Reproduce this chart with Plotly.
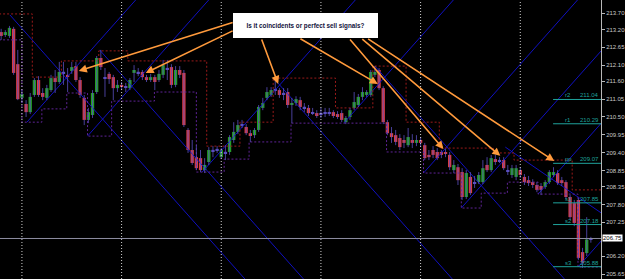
import plotly.graph_objects as go

# ---------------- data ----------------
hours = list(range(19, 162))  # hourly bars, day separators every 24 h

opens = [213.12,213.03,213.00,213.22,212.13, 211.09,210.90,210.65,211.18,211.64,
         211.24,211.09,211.33,211.70,211.58, 211.89,211.80,211.92,212.07,211.64,
         211.09,210.41,210.56,211.27,212.32, 211.73,211.83,211.73,211.39,211.49,
         211.45,211.39,211.86,211.89,211.89, 211.73,211.64,211.73,211.64,211.80,
         212.01,212.04,211.49,211.95,211.86, 210.10,209.48,209.26,209.23,208.86,
         209.11,209.48,209.48,209.26,209.42, 209.42,209.79,210.04,210.25,210.19,
         210.00,209.94,210.10,210.78,211.09, 211.18,211.33,211.33,211.24,211.27,
         210.87,210.93,211.02,210.81,210.78, 210.65,210.62,210.59,210.62,210.65,
         210.65,210.59,210.62,210.34,210.50, 210.78,210.87,211.12,211.18,211.18,
         211.80,211.95,211.39,210.34,210.00, 209.94,209.85,209.79,209.63,209.79,
         209.70,209.79,209.63,209.33,209.48, 209.42,209.42,209.42,209.33,208.86,
         208.95,208.80,208.03,208.65,208.49, 208.49,208.49,209.02,208.86,209.20,
         209.17,209.17,208.86,208.71,208.65, 208.86,208.65,208.55,208.49,208.40,
         208.37,208.34,208.49,208.71,208.77, 208.55,208.49,208.03,207.84,207.94,
         206.33,206.30,206.72]
closes = [213.00,213.12,213.25,211.86,211.05, 211.21,210.65,211.12,211.64,211.18,
          211.12,211.39,211.70,211.58,211.89, 211.86,211.76,212.04,211.64,211.18,
          210.41,210.65,211.24,212.32,212.04, 211.70,211.67,211.39,211.49,211.45,
          211.42,211.64,211.95,211.86,211.73, 211.64,211.73,211.58,211.83,212.10,
          211.98,211.49,211.95,211.80,210.25, 209.48,209.08,208.92,208.86,209.02,
          209.48,209.45,209.51,209.48,209.39, 209.88,210.04,210.25,210.28,210.00,
          209.94,210.10,210.81,210.93,211.27, 211.33,211.36,211.18,211.21,210.87,
          210.93,211.05,210.81,210.78,210.62, 210.62,210.56,210.62,210.65,210.62,
          210.53,210.53,210.41,210.47,210.71, 210.96,211.12,211.27,211.27,211.89,
          211.89,211.39,210.34,210.00,209.88, 209.73,209.57,209.70,209.88,209.70,
          209.79,209.70,209.23,209.26,209.33, 209.23,209.33,209.36,208.95,209.02,
          208.55,208.03,208.77,208.15,208.46, 208.71,208.92,208.86,209.23,209.11,
          209.14,208.92,208.83,208.92,208.92, 208.71,208.49,208.46,208.40,208.25,
          208.25,208.49,208.80,208.80,208.46, 208.46,208.03,207.41,207.23,206.15,
          206.00,206.72,206.75]
highs = [213.22,213.18,213.31,213.28,212.57, 211.33,211.02,211.24,211.70,211.76,
         211.39,211.49,211.80,211.95,212.20, 212.20,212.01,212.20,212.20,211.73,
         211.18,210.78,211.33,212.38,212.57, 212.01,211.89,211.80,211.64,211.58,
         211.55,211.70,212.10,212.01,211.95, 211.80,211.83,211.80,211.95,212.26,
         212.26,212.13,212.07,212.07,211.95, 210.16,209.79,209.63,209.48,209.23,
         209.57,209.60,209.60,209.54,209.63, 209.94,210.34,210.41,210.41,210.28,
         210.10,210.16,210.87,211.09,211.42, 211.42,211.64,211.39,211.39,211.39,
         211.09,211.14,211.12,210.93,210.87, 210.78,210.71,210.78,210.78,210.78,
         210.71,210.68,210.71,210.53,210.78, 211.27,211.21,211.42,211.33,211.95,
         212.07,212.01,211.45,210.41,210.19, 210.10,209.97,209.94,210.16,209.97,
         209.94,209.88,209.70,209.48,209.60, 209.54,209.48,209.51,209.42,209.17,
         209.05,208.92,208.86,208.80,208.68, 208.80,209.17,209.26,209.33,209.33,
         209.26,209.26,209.02,209.02,209.02, 208.95,208.74,208.68,208.58,208.49,
         208.46,208.55,208.86,208.95,208.86, 208.65,208.55,208.09,207.94,208.00,
         206.46,207.41,206.80]
lows = [212.88,212.97,212.94,211.80,211.02, 210.93,210.50,210.59,211.12,211.12,
        211.02,211.02,211.27,211.24,211.52, 211.49,211.27,211.83,211.58,211.09,
        210.25,210.31,210.47,211.21,211.95, 211.12,211.52,211.02,211.27,211.33,
        211.27,211.33,211.58,211.76,211.64, 211.58,211.58,211.33,211.58,211.70,
        211.64,211.39,211.42,211.70,210.19, 209.39,209.02,208.86,208.80,208.77,
        209.02,209.26,209.39,209.20,209.17, 209.33,209.70,209.97,210.16,209.94,
        209.73,209.85,210.04,210.71,211.02, 211.12,211.18,211.09,211.02,210.78,
        210.31,210.84,210.71,210.65,210.53, 210.56,210.47,210.47,210.50,210.53,
        210.47,210.44,210.34,210.28,210.41, 210.71,210.81,211.02,211.12,211.12,
        211.73,211.33,210.28,209.94,209.70, 209.63,209.48,209.54,209.57,209.54,
        209.60,209.60,209.17,209.17,209.23, 209.17,209.23,209.26,208.86,208.77,
        208.40,207.94,207.97,208.09,208.31, 208.43,208.43,208.80,208.80,209.02,
        209.08,208.86,208.71,208.62,208.55, 208.62,208.40,208.37,208.31,208.18,
        208.09,208.28,208.43,208.65,208.40, 208.37,207.97,207.32,207.13,206.09,
        205.84,206.21,206.62]

# price channel (upper: dashed dark red, lower: dotted purple), step starts
res_x = [18.5, 26.5, 33.5, 42.5, 49.5, 68.5, 76.5, 84.5, 99.5, 108.5, 116.5, 124.5, 137.5, 142.5, 156.5, 163.5]
res_y = [213.68, 211.73, 212.23, 212.54, 212.23, 209.60, 210.34, 211.70, 210.78, 212.07, 210.34, 209.54, 209.39, 209.17, 208.25, 208.25]
sup_x = [18.5, 24, 28.8, 34.8, 39.8, 45.6, 55.9, 66, 72.7, 78.7, 88.8, 111.8, 120.7, 129.8, 134.6, 140.9, 148.3, 157.9, 163.5]
sup_y = [212.88, 210.34, 210.75, 211.24, 209.91, 210.99, 211.27, 208.80, 209.20, 209.73, 210.31, 209.42, 208.77, 207.69, 208.15, 208.49, 208.12, 205.87, 205.87]

# gann-style lines: anchor hour, anchor price, slope (price per hour, + rising)
gann_h = [21.1, 42.7, 85.0, 109.0, 140.4, 25.2, 39.8, 67.4, 101.5, 120.7, 129.8, 148.3, 157.9]
gann_p = [213.65, 212.57, 211.64, 212.07, 209.57, 210.34, 209.91, 208.80, 210.31, 208.77, 207.69, 208.12, 205.87]
gann_s = [-0.144, -0.144, -0.144, -0.144, -0.088, 0.144, 0.144, 0.144, 0.144, 0.144, 0.144, 0.144, 0.144]

# pivot levels
lvl_names = ["r2", "r1", "pp", "s1", "s2", "s3"]
lvl_vals = [211.04, 210.29, 209.07, 207.85, 207.18, 205.88]
lvl_start = 151.9

current_price = 206.75
day_starts = [24, 48, 72, 96, 120, 144]

tick_vals = [213.70, 213.20, 212.65, 212.10, 211.60, 211.05, 210.50, 209.95, 209.40,
             208.85, 208.35, 207.80, 207.25, 206.20, 205.65]
tick_text = ["%.2f" % v for v in tick_vals]

# arrows: tail (box) -> tip (candle)
arrow_tail_h = [75.1, 75.1, 81.6, 90.7, 102.7, 105.6, 107.0]
arrow_tail_p = [213.43, 213.18, 212.94, 212.94, 212.94, 212.94, 212.94]
arrow_tip_h = [37.7, 53.8, 85.7, 109.7, 125.5, 139.2, 152.2]
arrow_tip_p = [211.92, 211.86, 211.52, 211.52, 209.51, 209.30, 209.14]

note_text = "Is it coincidents or perfect sell signals?"

X_RANGE = [18.72, 163.44]
Y_RANGE = [205.50, 214.11]

# ---------------- figure ----------------
fig = go.Figure()

WICK = "#5b4fc0"
UP = "#22a022"
DOWN = "#d83c44"

# gann lines
for h0, p0, s in zip(gann_h, gann_p, gann_s):
    xe = 175.0
    fig.add_trace(go.Scatter(x=[h0, xe], y=[p0, p0 + s * (xe - h0)], mode="lines",
                             line=dict(color="#1010c0", width=1), hoverinfo="skip"))

# channels
fig.add_trace(go.Scatter(x=res_x, y=res_y, mode="lines", line_shape="hv",
                         line=dict(color="#9a1a1a", width=1, dash="2px,2px"), hoverinfo="skip"))
fig.add_trace(go.Scatter(x=sup_x, y=sup_y, mode="lines", line_shape="hv",
                         line=dict(color="#5e2396", width=1, dash="2px,2px"), hoverinfo="skip"))

# wicks
wx, wy = [], []
for h, hi, lo in zip(hours, highs, lows):
    wx += [h, h, None]
    wy += [lo, hi, None]
fig.add_trace(go.Scatter(x=wx, y=wy, mode="lines", line=dict(color=WICK, width=0.8), hoverinfo="skip"))

# bodies
bases, heights, colors = [], [], []
for o, c in zip(opens, closes):
    lo, hi = min(o, c), max(o, c)
    d = hi - lo
    if d < 0.04:
        colors.append(WICK)
        bases.append((lo + hi) / 2 - 0.02)
        heights.append(0.04)
    else:
        colors.append(UP if c > o else DOWN)
        bases.append(lo)
        heights.append(d)
fig.add_trace(go.Bar(x=hours, y=heights, base=bases, width=0.8,
                     marker=dict(color=colors, line=dict(width=0)), hoverinfo="skip"))

# pivot level lines
for v in lvl_vals:
    fig.add_trace(go.Scatter(x=[lvl_start, X_RANGE[1]], y=[v, v], mode="lines",
                             line=dict(color="#1fa39c", width=1), hoverinfo="skip"))

shapes = []
for d in day_starts:
    shapes.append(dict(type="line", xref="x", yref="paper", x0=d, x1=d, y0=0, y1=1,
                       line=dict(color="#d0d0d0", width=1, dash="1px,2px")))
shapes.append(dict(type="line", xref="paper", yref="y", x0=0, x1=1, y0=current_price, y1=current_price,
                   line=dict(color="#8c8ca0", width=1)))

annotations = []
for name, v in zip(lvl_names, lvl_vals):
    annotations.append(dict(x=lvl_start + 2.3, y=v, xref="x", yref="y", text=name, showarrow=False,
                            xanchor="left", yanchor="bottom", yshift=-1,
                            font=dict(size=6, color="#1fa39c", family="Liberation Sans")))
    annotations.append(dict(x=1, y=v, xref="paper", yref="y", text="%.2f" % v, showarrow=False,
                            xanchor="right", yanchor="bottom", yshift=-1,
                            font=dict(size=6, color="#1fa39c", family="Liberation Sans")))

for th, tp, hh, hp in zip(arrow_tail_h, arrow_tail_p, arrow_tip_h, arrow_tip_p):
    annotations.append(dict(x=hh, y=hp, ax=th, ay=tp, xref="x", yref="y", axref="x", ayref="y",
                            text="", showarrow=True, arrowhead=2, arrowsize=1, arrowwidth=1.6,
                            arrowcolor="#ff9a3c"))

annotations.append(dict(x=92.4, y=213.32, xref="x", yref="y", text="<b>" + note_text + "</b>",
                        showarrow=False, bgcolor="white", bordercolor="white", width=141, height=21,
                        font=dict(size=6.3, color="#10103a", family="Liberation Sans")))

annotations.append(dict(x=1, y=current_price, xref="paper", yref="y", text="%.2f" % current_price,
                        showarrow=False, xanchor="left", xshift=1, bgcolor="white", borderpad=0,
                        font=dict(size=6, color="black", family="Liberation Sans")))

fig.update_layout(
    width=625, height=279, margin=dict(l=0, r=22, t=0, b=0, pad=0),
    paper_bgcolor="black", plot_bgcolor="black", showlegend=False, barmode="overlay",
    shapes=shapes, annotations=annotations,
    xaxis=dict(range=X_RANGE, showgrid=False, zeroline=False, showticklabels=False, ticks="",
               side="top", showline=True, linecolor="#a0a0a0", linewidth=1),
    yaxis=dict(range=Y_RANGE, side="right", tickvals=tick_vals, ticktext=tick_text,
               ticks="outside", ticklen=3, tickcolor="#b8b8b8", showgrid=False, zeroline=False,
               showline=True, linecolor="#b8b8b8", linewidth=1,
               tickfont=dict(size=6, color="#c8c8c8", family="Liberation Sans")),
)

fig.write_html("out.html")
